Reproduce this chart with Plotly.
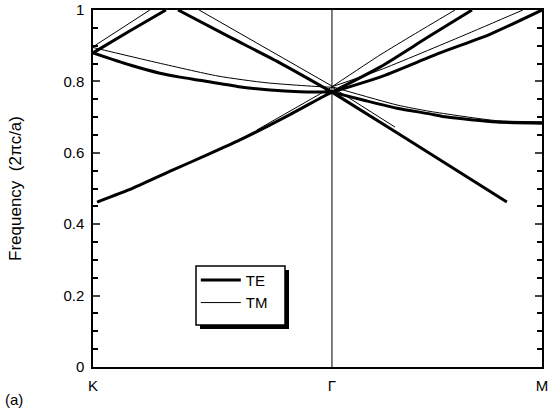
import plotly.graph_objects as go

# k-path positions (K -> Gamma -> M), Gamma at 1
k_ticks = [0.0, 1.0, 1.879]
k_labels = ["K", "Γ", "M"]

# TE bands (thick lines), frequency in 2πc/a
te1_x = [0.017, 0.167, 0.335, 0.477, 0.615, 0.824, 0.962, 1.0]
te1_f = [0.462, 0.501, 0.552, 0.594, 0.636, 0.707, 0.757, 0.770]
te2_x = [0.0, 0.155, 0.280, 0.364, 0.448, 0.603, 0.741, 0.866, 1.0]
te2_f = [0.880, 0.846, 0.823, 0.812, 0.803, 0.786, 0.776, 0.771, 0.770]
te3_x = [0.0, 0.15, 0.305]
te3_f = [0.880, 0.940, 1.0]
te4_x = [0.356, 0.573, 0.782, 1.0]
te4_f = [1.0, 0.924, 0.852, 0.770]
te5_x = [1.0, 1.272, 1.732]
te5_f = [0.770, 0.656, 0.462]
te6_x = [1.0, 1.130, 1.272, 1.410, 1.481, 1.690, 1.879]
te6_f = [0.770, 0.748, 0.725, 0.709, 0.700, 0.686, 0.683]
te7_x = [1.0, 1.201, 1.397, 1.586]
te7_f = [0.770, 0.840, 0.922, 1.0]
te8_x = [1.0, 1.201, 1.452, 1.661, 1.879]
te8_f = [0.770, 0.812, 0.880, 0.932, 1.0]

# TM bands (thin lines)
tm1_x = [0.0, 0.259, 0.523, 0.728, 0.992, 1.0]
tm1_f = [0.895, 0.854, 0.815, 0.796, 0.784, 0.785]
tm2_x = [0.0, 0.238]
tm2_f = [0.897, 1.0]
tm3_x = [0.444, 1.0]
tm3_f = [1.0, 0.787]
tm4_x = [0.686, 1.0]
tm4_f = [0.664, 0.784]
tm5_x = [1.0, 1.264]
tm5_f = [0.784, 0.672]
tm6_x = [1.0, 1.272, 1.410, 1.690, 1.879]
tm6_f = [0.785, 0.734, 0.716, 0.690, 0.687]
tm7_x = [1.0, 1.201, 1.339, 1.515]
tm7_f = [0.785, 0.874, 0.930, 1.0]
tm8_x = [1.0, 1.201, 1.548, 1.799]
tm8_f = [0.785, 0.832, 0.928, 1.0]

te_bands = [(te1_x, te1_f), (te2_x, te2_f), (te3_x, te3_f), (te4_x, te4_f),
            (te5_x, te5_f), (te6_x, te6_f), (te7_x, te7_f), (te8_x, te8_f)]
tm_bands = [(tm1_x, tm1_f), (tm2_x, tm2_f), (tm3_x, tm3_f), (tm4_x, tm4_f),
            (tm5_x, tm5_f), (tm6_x, tm6_f), (tm7_x, tm7_f), (tm8_x, tm8_f)]

fig = go.Figure()

# thin TM first so thick TE sits on top
for x, f in tm_bands:
    fig.add_trace(go.Scatter(x=x, y=f, mode='lines', name='TM', legendgroup='TM',
                             showlegend=False,
                             line=dict(color='black', width=1, shape='spline', smoothing=0.6)))
for i, (x, f) in enumerate(te_bands):
    fig.add_trace(go.Scatter(x=x, y=f, mode='lines', name='TE', legendgroup='TE',
                             showlegend=(i == 0),
                             line=dict(color='black', width=3, shape='spline', smoothing=0.6)))
# legend entry for TM (after TE so order is TE, TM)
fig.add_trace(go.Scatter(x=[None], y=[None], mode='lines', name='TM', legendgroup='TM',
                         line=dict(color='black', width=1)))

# vertical line at Gamma
fig.add_vline(x=k_ticks[1], line=dict(color='black', width=1))

# legend box with drop shadow (drawn as shapes, legend itself is borderless)
fig.add_shape(type='rect', xref='paper', yref='paper', x0=0.2383, x1=0.4365, y0=0.1064, y1=0.2717,
              fillcolor='black', line=dict(width=0), layer='above')
fig.add_shape(type='rect', xref='paper', yref='paper', x0=0.2294, x1=0.4276, y0=0.1176, y1=0.2829,
              fillcolor='white', line=dict(color='black', width=1.5), layer='above')

font = "Liberation Sans, Arial, sans-serif"

fig.update_layout(
    width=558, height=418,
    margin=dict(l=93, r=16, t=10, b=51),
    paper_bgcolor='white', plot_bgcolor='white',
    font=dict(family=font, size=15, color='black'),
    showlegend=True,
    legend=dict(x=0.229, y=0.289, xanchor='left', yanchor='top',
                bgcolor='rgba(0,0,0,0)', borderwidth=0,
                font=dict(size=15), itemwidth=40, tracegroupgap=0),
)
fig.update_xaxes(range=[0, k_ticks[2]], tickvals=k_ticks, ticktext=k_labels,
                 showgrid=False, zeroline=False, showline=True, linecolor='black',
                 linewidth=1.5, mirror=True, ticks='', ticklabelstandoff=4, automargin=False,
                 ticklabeloverflow='allow')
fig.update_yaxes(range=[0, 1], tickvals=[0, 0.2, 0.4, 0.6, 0.8, 1],
                 ticktext=['0', '0.2', '0.4', '0.6', '0.8', '1'],
                 showgrid=False, zeroline=False, showline=True, linecolor='black',
                 linewidth=1.5, mirror='allticks', ticks='inside', ticklen=7, tickwidth=1.5,
                 minor=dict(dtick=0.05, ticks='inside', ticklen=5, tickcolor='black'),
                 ticklabelstandoff=4, automargin=False, ticklabeloverflow='allow',
                 title=dict(text='Frequency  (2πc/a)', font=dict(size=17), standoff=37))

fig.add_annotation(text='(a)', xref='paper', yref='paper', x=-0.2004, y=-0.092,
                   xanchor='left', yanchor='middle', showarrow=False, font=dict(size=15))

# the page body has a default 8px margin; drop it so the figure sits at the window corner
fig.write_html("out.html", config={'displayModeBar': False},
               post_script="document.body.style.margin='0';")
